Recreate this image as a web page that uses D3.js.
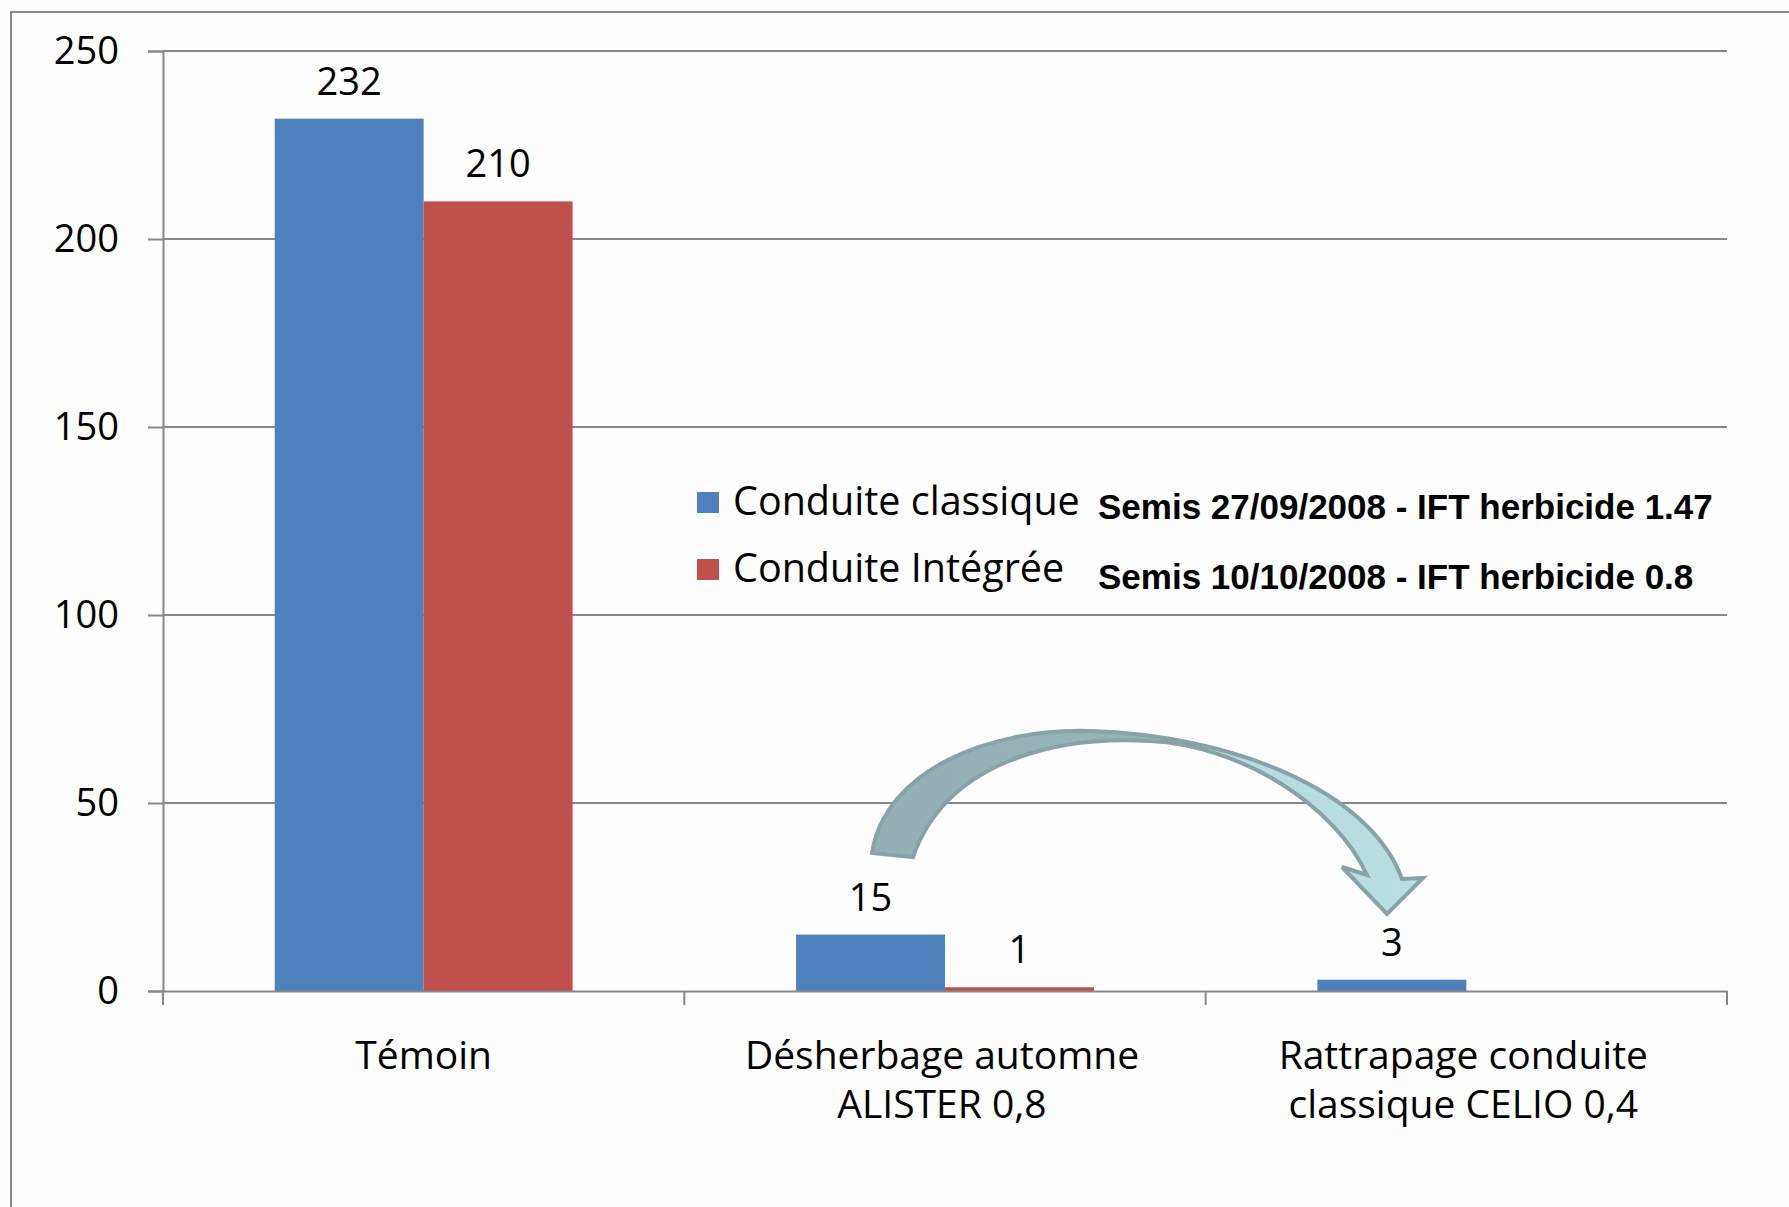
<!DOCTYPE html>
<html>
<head>
<meta charset="utf-8">
<script src="https://cdn.jsdelivr.net/npm/d3@7"></script>
<style>
  body { margin: 0; background: #fdfdfd; }
  svg text { font-family: "Open Sans", sans-serif; fill: #000; }
  .note { font-family: "Liberation Sans", Arial, sans-serif; font-weight: bold; }
</style>
</head>
<body>
<div id="chart"></div>
<script>
// chart data
var categories = ["Témoin", "Désherbage automne ALISTER 0,8", "Rattrapage conduite classique CELIO 0,4"];
var categoryLines = [["Témoin"], ["Désherbage automne", "ALISTER 0,8"], ["Rattrapage conduite", "classique CELIO 0,4"]];
var seriesNames = ["Conduite classique", "Conduite Intégrée"];
var classiqueValues = [232, 15, 3];
var integreeValues = [210, 1, null];
var seriesNotes = ["Semis 27/09/2008 - IFT herbicide 1.47", "Semis 10/10/2008 - IFT herbicide 0.8"];
var yTicks = [0, 50, 100, 150, 200, 250];
var colors = ["#4f81bd", "#c0504d"];

var svgWidth = 1789;
var svgHeight = 1207;

var margin = { top: 51, right: 62, bottom: 216, left: 163 };
var width = svgWidth - margin.left - margin.right;
var height = svgHeight - margin.top - margin.bottom;

var svg = d3.select("#chart")
    .append("svg")
    .attr("width", svgWidth)
    .attr("height", svgHeight);

// outer frame
svg.append("rect")
    .attr("x", 11)
    .attr("y", 12)
    .attr("width", svgWidth + 20)
    .attr("height", svgHeight + 20)
    .attr("fill", "#fdfdfd")
    .attr("stroke", "#888888")
    .attr("stroke-width", 2);

var chartGroup = svg.append("g")
    .attr("transform", `translate(${margin.left}, ${margin.top})`);

// scales
var x0 = d3.scaleBand()
    .domain(categories)
    .range([0, width])
    .padding(0);

var x1 = d3.scaleBand()
    .domain(seriesNames)
    .range([0, x0.bandwidth()])
    .paddingInner(0)
    .paddingOuter(0.75);

var y = d3.scaleLinear()
    .domain([0, 250])
    .range([height, 0]);

// gridlines
chartGroup.append("g")
    .selectAll("line")
    .data(yTicks.filter(d => d > 0))
    .enter()
    .append("line")
    .attr("x1", 0)
    .attr("x2", width)
    .attr("y1", d => y(d))
    .attr("y2", d => y(d))
    .attr("stroke", "#878787")
    .attr("stroke-width", 2);

// y axis
var leftAxis = d3.axisLeft(y)
    .tickValues(yTicks)
    .tickSize(15)
    .tickPadding(29);

var yAxis = chartGroup.append("g").call(leftAxis);
yAxis.select(".domain").attr("stroke", "#878787").attr("stroke-width", 2);
yAxis.selectAll(".tick line").attr("stroke", "#878787").attr("stroke-width", 2);
yAxis.selectAll(".tick text")
    .attr("font-family", "Open Sans")
    .attr("font-size", 38)
    .attr("fill", "#000");

// bars
var rows = categories.map((c, i) => ({ cat: c, values: [classiqueValues[i], integreeValues[i]] }));

var groups = chartGroup.selectAll(".cat")
    .data(rows)
    .enter()
    .append("g")
    .attr("class", "cat")
    .attr("transform", d => `translate(${x0(d.cat)}, 0)`);

var cells = groups.selectAll("g")
    .data(d => d.values.map((v, j) => ({ name: seriesNames[j], value: v, idx: j })).filter(e => e.value !== null))
    .enter()
    .append("g");

cells.append("rect")
    .attr("x", d => x1(d.name))
    .attr("y", d => y(d.value))
    .attr("width", x1.bandwidth())
    .attr("height", d => height - y(d.value))
    .attr("fill", d => colors[d.idx]);

cells.append("text")
    .attr("x", d => x1(d.name) + x1.bandwidth() / 2)
    .attr("y", d => y(d.value) - 24)
    .attr("text-anchor", "middle")
    .attr("font-size", 38)
    .text(d => d.value);

// x axis
var bottomAxis = d3.axisBottom(x0).tickFormat("").tickSize(0);
var xAxis = chartGroup.append("g")
    .attr("transform", `translate(0, ${height})`)
    .call(bottomAxis);
xAxis.select(".domain").attr("stroke", "#878787").attr("stroke-width", 2);

// category separator ticks
chartGroup.append("g")
    .selectAll("line")
    .data(d3.range(categories.length + 1))
    .enter()
    .append("line")
    .attr("x1", i => i * x0.step())
    .attr("x2", i => i * x0.step())
    .attr("y1", height)
    .attr("y2", height + 14)
    .attr("stroke", "#878787")
    .attr("stroke-width", 2);

// category labels
var catLabels = chartGroup.append("g")
    .selectAll("text")
    .data(categories)
    .enter()
    .append("text")
    .attr("text-anchor", "middle")
    .attr("font-size", 39)
    .attr("x", (d, i) => x0(d) + x0.bandwidth() / 2 - (i === 0 ? 0 : 3))
    .attr("y", height + 78);

catLabels.selectAll("tspan")
    .data((d, i) => categoryLines[i])
    .enter()
    .append("tspan")
    .attr("x", function() { return d3.select(this.parentNode).attr("x"); })
    .attr("dy", (d, i) => i === 0 ? 0 : 49)
    .text(d => d);

// legend
var legend = svg.append("g").attr("transform", "translate(697, 492)");
seriesNames.forEach(function(name, i) {
    var row = legend.append("g").attr("transform", `translate(0, ${i * 67})`);
    row.append("rect")
        .attr("width", 22)
        .attr("height", 21)
        .attr("fill", colors[i]);
    row.append("text")
        .attr("x", 36)
        .attr("y", 23)
        .attr("font-size", 39.5)
        .text(name);
    row.append("text")
        .attr("class", "note")
        .attr("x", 401)
        .attr("y", 27 + i * 3)
        .attr("font-size", 35)
        .text(seriesNotes[i]);
});

// curved arrow annotation
var defs = svg.append("defs");
var grad = defs.append("linearGradient")
    .attr("id", "arrowFill")
    .attr("x1", "0%").attr("x2", "100%")
    .attr("y1", "0%").attr("y2", "0%");
grad.append("stop").attr("offset", "0%").attr("stop-color", "#93afb3");
grad.append("stop").attr("offset", "50%").attr("stop-color", "#97b4b8");
grad.append("stop").attr("offset", "60%").attr("stop-color", "#b6dbdf");
grad.append("stop").attr("offset", "100%").attr("stop-color", "#badfe2");

svg.append("path")
    .attr("d", "M872,853 C885,770 990,728 1090,731 C1230,735 1370,790 1402,879 " +
               "L1423,878 L1387,914 L1342,867 L1367,875 " +
               "C1335,805 1240,745 1150,741 C1050,735 945,765 913,857 Z")
    .attr("fill", "url(#arrowFill)")
    .attr("stroke", "#87a3a7")
    .attr("stroke-width", 4)
    .attr("stroke-linejoin", "miter");
</script>
</body>
</html>
